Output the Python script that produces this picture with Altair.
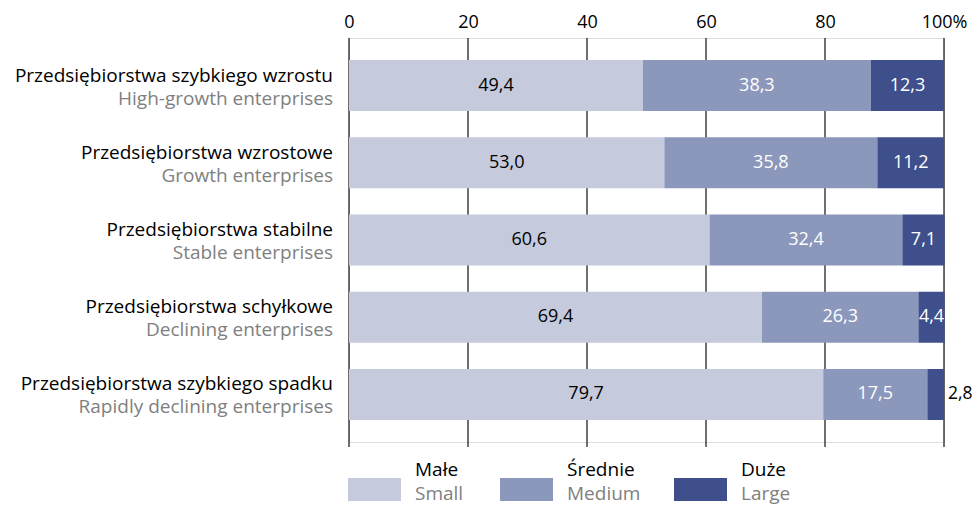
import altair as alt
import pandas as pd

categories_pl = [
    "Przedsiębiorstwa szybkiego wzrostu",
    "Przedsiębiorstwa wzrostowe",
    "Przedsiębiorstwa stabilne",
    "Przedsiębiorstwa schyłkowe",
    "Przedsiębiorstwa szybkiego spadku",
]
categories_en = [
    "High-growth enterprises",
    "Growth enterprises",
    "Stable enterprises",
    "Declining enterprises",
    "Rapidly declining enterprises",
]
series_pl = ["Małe", "Średnie", "Duże"]
series_en = ["Small", "Medium", "Large"]
colors = ["#c5cadd", "#8c97bc", "#3e4f8b"]
label_colors = ["#000000", "#ffffff", "#ffffff"]

small = [49.4, 53.0, 60.6, 69.4, 79.7]
medium = [38.3, 35.8, 32.4, 26.3, 17.5]
large = [12.3, 11.2, 7.1, 4.4, 2.8]
ticks = [0, 20, 40, 60, 80, 100]

FONT = "Open Sans"
FS_LAB = 19
FS_VAL = 18
W, H = 595, 404

rows = []
for i, cat in enumerate(categories_pl):
    start = 0.0
    for j, vals in enumerate([small, medium, large]):
        v = vals[i]
        rows.append({
            "cat": cat, "series": series_pl[j], "order": j,
            "start": start, "end": start + v, "mid": start + v / 2,
            "value": v, "label": f"{v:.1f}".replace(".", ","),
            "lcolor": label_colors[j], "outside": v < 3.5,
        })
        start += v
df = pd.DataFrame(rows)

cat_df = pd.DataFrame({"cat": categories_pl, "en": categories_en})
tick_df = pd.DataFrame({"t": ticks})

xscale = alt.Scale(domain=[0, 100], nice=False, zero=True)
yscale = alt.Scale(domain=categories_pl, paddingInner=0.34, paddingOuter=0.285)
xaxis = alt.Axis(
    orient="top", values=ticks, ticks=False, domain=False, grid=False,
    labelPadding=7, labelFlush=False, labelFont=FONT, labelFontSize=FS_VAL,
    labelColor="#000000",
    labelExpr="datum.value == 100 ? '100%' : datum.label", title=None)

grid = alt.Chart(tick_df).mark_rule(color="#222222", strokeWidth=1.3).encode(
    x=alt.X("t:Q", scale=xscale, axis=xaxis),
    y=alt.value(0), y2=alt.value(H + 5),
)

bars = alt.Chart(df).mark_bar().encode(
    x=alt.X("start:Q", scale=xscale, axis=xaxis),
    x2="end:Q",
    y=alt.Y("cat:N", scale=yscale, axis=None),
    color=alt.Color("series:N", scale=alt.Scale(domain=series_pl, range=colors), legend=None),
)

inside = alt.Chart(df).transform_filter("!datum.outside").mark_text(
    font=FONT, fontSize=FS_VAL, align="center", baseline="middle"
).encode(
    x=alt.X("mid:Q", scale=xscale, axis=xaxis),
    y=alt.Y("cat:N", scale=yscale, axis=None),
    text="label:N",
    color=alt.Color("lcolor:N", scale=None),
)

outside = alt.Chart(df).transform_filter("datum.outside").mark_text(
    font=FONT, fontSize=17.5, align="left", baseline="middle", dx=4, color="#000000"
).encode(
    x=alt.X("end:Q", scale=xscale, axis=xaxis),
    y=alt.Y("cat:N", scale=yscale, axis=None),
    text="label:N",
)

lab_pl = alt.Chart(cat_df).mark_text(
    font=FONT, fontSize=FS_LAB, align="right", baseline="middle", dy=-10, color="#000000"
).encode(
    x=alt.value(-16), y=alt.Y("cat:N", scale=yscale, axis=None), text="cat:N"
)
lab_en = alt.Chart(cat_df).mark_text(
    font=FONT, fontSize=FS_LAB, align="right", baseline="middle", dy=13, color="#808080"
).encode(
    x=alt.value(-16), y=alt.Y("cat:N", scale=yscale, axis=None), text="en:N"
)

legend_layers = []
leg_x = [-1, 151, 325]
for j in range(3):
    lx = leg_x[j]
    ldf = pd.DataFrame({"pl": [series_pl[j]], "en": [series_en[j]]})
    legend_layers.append(alt.Chart(ldf).mark_rect(color=colors[j]).encode(
        x=alt.value(lx), x2=alt.value(lx + 53), y=alt.value(440), y2=alt.value(463)))
    legend_layers.append(alt.Chart(ldf).mark_text(
        font=FONT, fontSize=FS_LAB, align="left", baseline="middle", color="#000000").encode(
        x=alt.value(lx + 67), y=alt.value(432), text="pl:N"))
    legend_layers.append(alt.Chart(ldf).mark_text(
        font=FONT, fontSize=FS_LAB, align="left", baseline="middle", color="#808080").encode(
        x=alt.value(lx + 67), y=alt.value(456), text="en:N"))

chart = alt.layer(grid, bars, inside, outside, lab_pl, lab_en, *legend_layers).properties(
    width=W, height=H,
    autosize=alt.AutoSizeParams(type="none"),
    padding={"left": 341, "top": 30, "right": 28, "bottom": 68},
).configure_view(stroke=None).configure(background="#ffffff")

chart.save("out.html", embed_options={"renderer": "svg", "actions": False})
